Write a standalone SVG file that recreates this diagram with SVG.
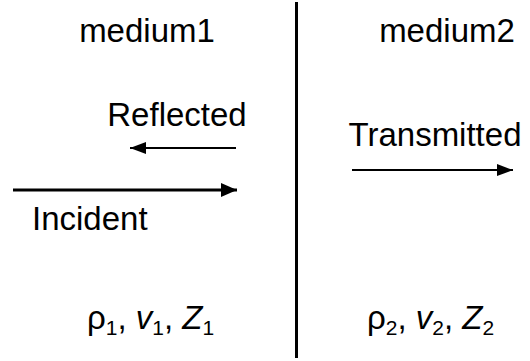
<svg xmlns="http://www.w3.org/2000/svg" width="530" height="361" viewBox="0 0 530 361">
<style>
text{font-family:"Liberation Sans",Arial,sans-serif;font-size:33px;fill:#000}
.sub{font-size:21px}
.it{font-style:italic}
line{stroke:#000}
</style>
<defs>
<marker id="ah" viewBox="0 0 16 14" refX="16" refY="7" markerWidth="16" markerHeight="14" markerUnits="userSpaceOnUse" orient="auto"><path d="M0,0L16,7L0,14z" fill="#000"/></marker>
<marker id="ah2" viewBox="0 0 16 12" refX="16" refY="6" markerWidth="16" markerHeight="12" markerUnits="userSpaceOnUse" orient="auto"><path d="M0,0L16,6L0,12z" fill="#000"/></marker>
</defs>
<g id="boundary"><line x1="296.5" y1="2" x2="296.5" y2="358" stroke-width="3"/></g>
<g id="medium1"><text x="147" y="42" text-anchor="middle">medium1</text></g>
<g id="medium2"><text x="447" y="42" text-anchor="middle">medium2</text></g>
<g id="reflected"><text x="177" y="126" text-anchor="middle">Reflected</text></g>
<g id="incident"><text x="32" y="230">Incident</text></g>
<g id="transmitted"><text x="435" y="146" text-anchor="middle">Transmitted</text></g>
<g id="props1"><text x="87" y="329">ρ<tspan class="sub" dy="6">1</tspan><tspan dy="-6">, </tspan><tspan class="it">v</tspan><tspan class="sub" dy="6">1</tspan><tspan dy="-6">, </tspan><tspan class="it">Z</tspan><tspan class="sub" dy="6">1</tspan></text></g>
<g id="props2"><text x="367" y="329">ρ<tspan class="sub" dy="6">2</tspan><tspan dy="-6">, </tspan><tspan class="it">v</tspan><tspan class="sub" dy="6">2</tspan><tspan dy="-6">, </tspan><tspan class="it">Z</tspan><tspan class="sub" dy="6">2</tspan></text></g>
<g id="connectors">
<line x1="236" y1="148" x2="130" y2="148" stroke-width="2" marker-end="url(#ah2)"/>
<line x1="13" y1="190" x2="237" y2="190" stroke-width="3" marker-end="url(#ah)"/>
<line x1="352" y1="170" x2="513" y2="170" stroke-width="2" marker-end="url(#ah2)"/>
</g>
</svg>
